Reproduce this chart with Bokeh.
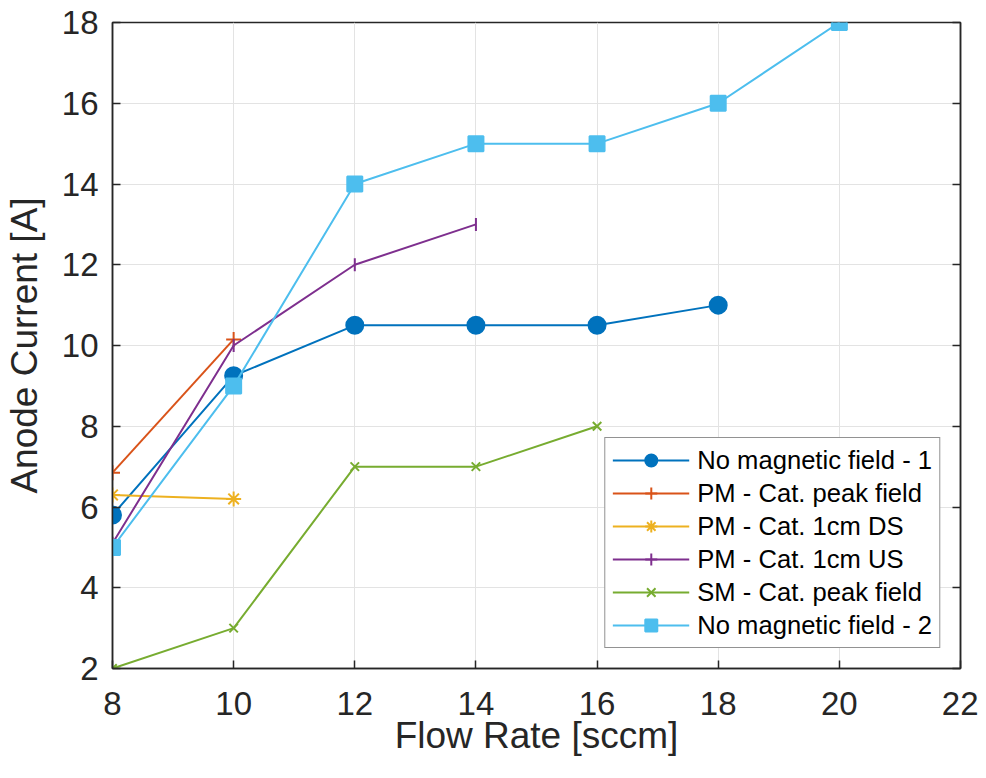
import math
from bokeh.plotting import figure
from bokeh.models import LinearAxis, Range1d, FixedTicker, Legend, LegendItem, CustomJSTickFormatter
from bokeh.embed import file_html
from bokeh.resources import INLINE

# ---- data ----
x_nm1 = [8, 10, 12, 14, 16, 18]
y_nm1 = [5.8, 9.25, 10.5, 10.5, 10.5, 11.0]

x_pm_peak = [8, 10]
y_pm_peak = [6.85, 10.15]

x_pm_ds = [8, 10]
y_pm_ds = [6.3, 6.2]

x_pm_us = [8, 10, 12, 14]
y_pm_us = [5.1, 10.0, 12.0, 13.0]

x_sm_peak = [8, 10, 12, 14, 16]
y_sm_peak = [2.0, 3.0, 7.0, 7.0, 8.0]

x_nm2 = [8, 10, 12, 14, 16, 18, 20]
y_nm2 = [5.0, 9.0, 14.0, 15.0, 15.0, 16.0, 18.0]

x_ticks = [8, 10, 12, 14, 16, 18, 20, 22]
y_ticks = [2, 4, 6, 8, 10, 12, 14, 16, 18]

FONT = "Liberation Sans"
TXT = "#262626"

p = figure(width=978, height=770, output_backend="svg", toolbar_location=None,
           x_range=Range1d(8, 22), y_range=Range1d(2, 18),
           min_border_left=112, min_border_top=22, min_border_right=18, min_border_bottom=102)

p.outline_line_color = TXT
p.outline_line_width = 1.5
p.outline_line_alpha = 1.0

for ax in (p.xaxis[0], p.yaxis[0]):
    ax.axis_line_color = TXT
    ax.axis_line_width = 1.5
    ax.major_tick_in = 8
    ax.major_tick_out = 0
    ax.major_tick_line_color = TXT
    ax.major_tick_line_width = 1.5
    ax.minor_tick_line_color = None
    ax.major_label_text_font = FONT
    ax.major_label_text_font_size = "33px"
    ax.major_label_text_color = TXT
    ax.axis_label_text_font = FONT
    ax.axis_label_text_font_size = "37px"
    ax.axis_label_text_font_style = "normal"
    ax.axis_label_text_color = TXT

p.xaxis.ticker = FixedTicker(ticks=x_ticks)
p.yaxis.ticker = FixedTicker(ticks=y_ticks)
p.xaxis.axis_label = "Flow Rate [sccm]"
p.yaxis.axis_label = "Anode Current [A]"
p.xaxis.major_label_standoff = 23
p.yaxis.major_label_standoff = 14
p.xaxis.axis_label_standoff = -3
p.yaxis.axis_label_standoff = 14

# right axis: ticks only
rax = LinearAxis(ticker=FixedTicker(ticks=y_ticks),
                 formatter=CustomJSTickFormatter(code="return ''"))
rax.major_tick_in = 8
rax.major_tick_out = 0
rax.major_tick_line_color = TXT
rax.major_tick_line_width = 1.5
rax.minor_tick_line_color = None
rax.axis_line_color = TXT
rax.axis_line_width = 1.5
rax.major_label_standoff = 0
p.add_layout(rax, "right")

p.grid.grid_line_color = "#E3E3E3"
p.grid.grid_line_width = 1
p.xgrid.ticker = FixedTicker(ticks=x_ticks)
p.ygrid.ticker = FixedTicker(ticks=y_ticks)

LW = 2
items = []

def series(xs, ys, color, marker, size, label, fill=True, angle=0.0, legend_marker=None):
    r1 = p.line(xs, ys, line_color=color, line_width=LW)
    r2 = p.scatter(xs, ys, marker=marker, size=size, line_color=color, line_width=LW,
                   fill_color=color if fill else None, angle=angle)
    rs = [r1, r2]
    if legend_marker is not None:
        # legend-only marker: a point with no y value, so nothing is drawn in the plot
        r3 = p.scatter(xs[:1], [float("nan")], marker=legend_marker, size=size,
                       line_color=color, line_width=LW, fill_color=None)
        rs = [r1, r3]
    items.append(LegendItem(label=label, renderers=rs))

series(x_nm1, y_nm1, "#0072BD", "circle", 17, "No magnetic field - 1")
series(x_pm_peak, y_pm_peak, "#D95319", "cross", 15, "PM - Cat. peak field", fill=False)
series(x_pm_ds, y_pm_ds, "#EDB120", "asterisk", 15, "PM - Cat. 1cm DS", fill=False)
series(x_pm_us, y_pm_us, "#7E2F8E", "dash", 13, "PM - Cat. 1cm US", fill=False,
       angle=math.pi / 2, legend_marker="cross")
series(x_sm_peak, y_sm_peak, "#77AC30", "x", 12, "SM - Cat. peak field", fill=False)
series(x_nm2, y_nm2, "#4DBEEE", "square", 15, "No magnetic field - 2")

legend = Legend(items=items, location="bottom_right")
legend.margin = 20
legend.padding = 7
legend.spacing = 3
legend.glyph_width = 77
legend.glyph_height = 30
legend.label_height = 30
legend.label_standoff = 8
legend.label_text_font = FONT
legend.label_text_font_size = "25.6px"
legend.label_text_color = "#000000"
legend.border_line_color = TXT
legend.border_line_width = 1.5
legend.background_fill_color = "white"
legend.background_fill_alpha = 1.0
p.add_layout(legend)

open("out.html", "w").write(file_html(p, INLINE))
